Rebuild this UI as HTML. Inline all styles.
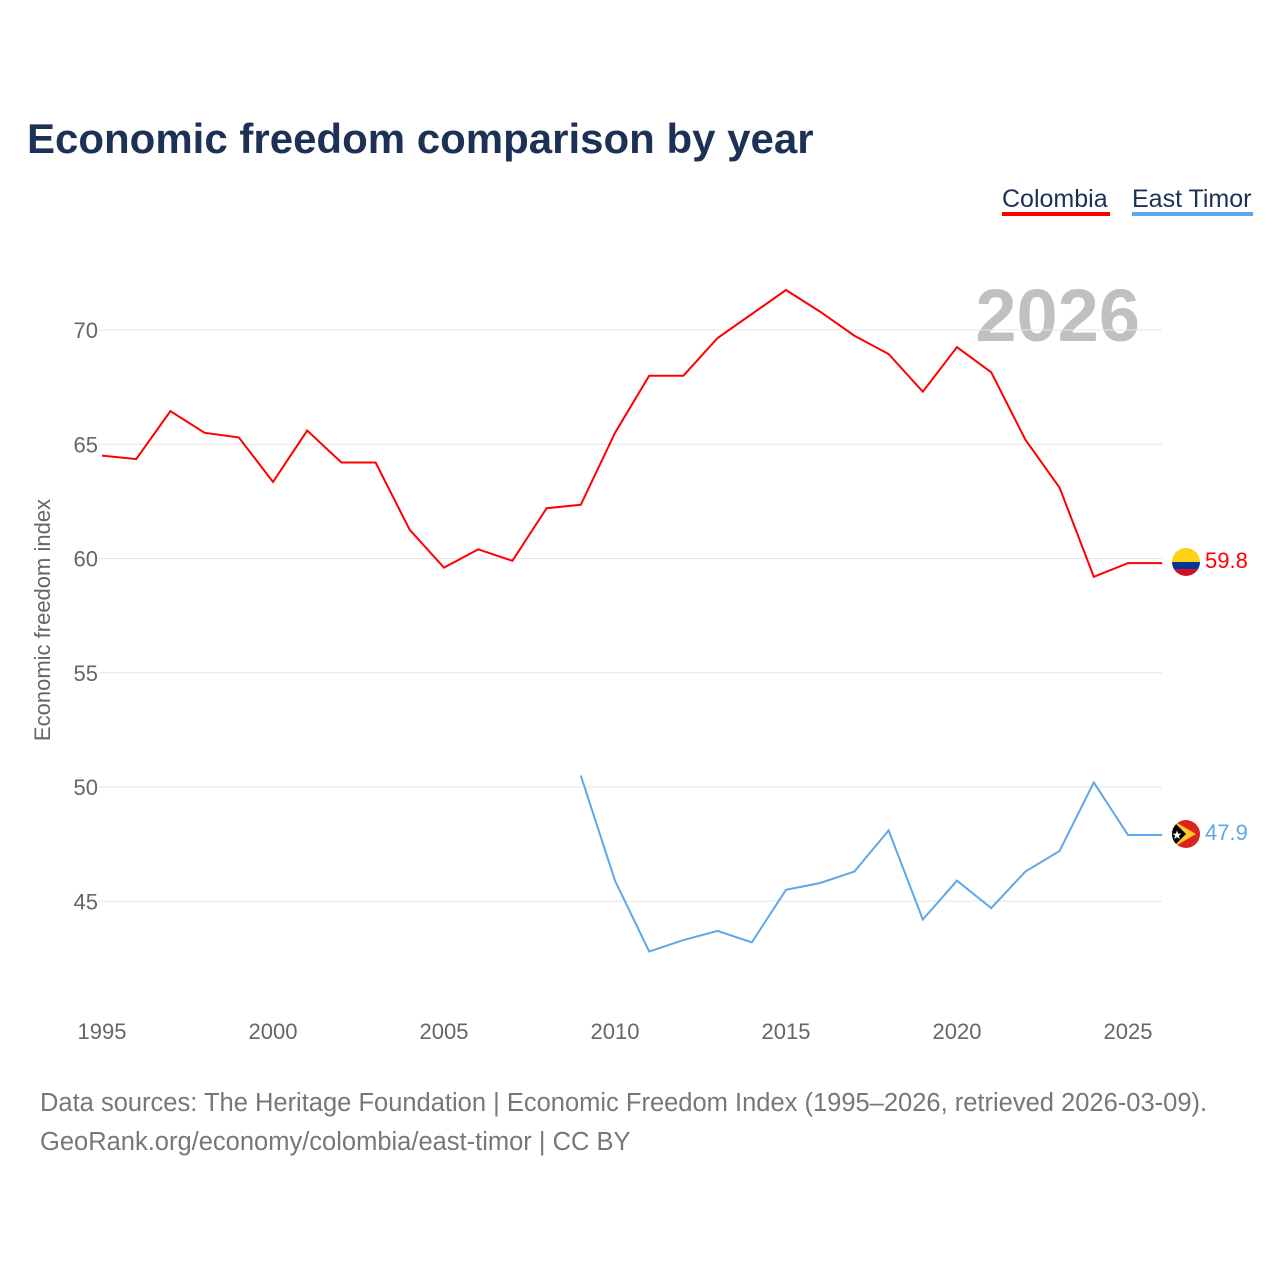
<!DOCTYPE html>
<html><head><meta charset="utf-8"><style>
html,body{margin:0;padding:0;background:#fff;width:1280px;height:1280px;overflow:hidden;font-family:"Liberation Sans",sans-serif}
</style></head><body>
<svg width="1280" height="1280" xmlns="http://www.w3.org/2000/svg">
<text x="27" y="153" font-size="42" font-weight="bold" fill="#1c3155">Economic freedom comparison by year</text>
<g><text x="1002" y="207" font-size="25" fill="#1c3155">Colombia</text><rect x="1002" y="212" width="108" height="4" fill="#ff0000"/></g>
<g><text x="1132" y="207" font-size="25" fill="#1c3155">East Timor</text><rect x="1132" y="212" width="121" height="4" fill="#5ea7ea"/></g>
<text x="1140" y="341" font-size="74" font-weight="bold" fill="#c0c0c0" text-anchor="end">2026</text>
<g id="grid"></g><g id="xt"></g><g id="lines"></g>
<text transform="translate(50,620) rotate(-90)" font-size="22" fill="#666" text-anchor="middle">Economic freedom index</text>
<g><clipPath id="c1"><circle cx="1186" cy="562" r="14"/></clipPath><g clip-path="url(#c1)"><rect x="1172" y="548" width="28" height="14" fill="#fcd116"/><rect x="1172" y="562" width="28" height="7" fill="#003893"/><rect x="1172" y="569" width="28" height="7" fill="#ce1126"/></g></g>
<g><clipPath id="c2"><circle cx="1186" cy="834" r="14"/></clipPath><g clip-path="url(#c2)"><rect x="1172" y="820" width="28" height="28" fill="#dc241f"/><polygon points="1172,820 1196,834 1172,848" fill="#ffc726"/><polygon points="1172,820 1186,834 1172,848" fill="#000"/><text x="1177" y="839" font-size="12" fill="#fff" text-anchor="middle">★</text></g></g>
<text x="1205" y="568" font-size="22" fill="#ff0000">59.8</text>
<text x="1205" y="840" font-size="22" fill="#5ea7ea">47.9</text>
<text x="40" y="1111" font-size="25.5" fill="#777">Data sources: The Heritage Foundation | Economic Freedom Index (1995–2026, retrieved 2026-03-09).</text>
<text x="40" y="1150" font-size="25.5" fill="#777">GeoRank.org/economy/colombia/east-timor | CC BY</text>
</svg>
<script>
const years=[1995,1996,1997,1998,1999,2000,2001,2002,2003,2004,2005,2006,2007,2008,2009,2010,2011,2012,2013,2014,2015,2016,2017,2018,2019,2020,2021,2022,2023,2024,2025,2026];
const colombia=[64.5,64.35,66.45,65.5,65.3,63.35,65.6,64.2,64.2,61.25,59.6,60.4,59.9,62.2,62.35,65.5,68.0,68.0,69.65,70.7,71.75,70.8,69.75,68.95,67.3,69.25,68.15,65.2,63.1,59.2,59.8,59.8];
const etYears=[2009,2010,2011,2012,2013,2014,2015,2016,2017,2018,2019,2020,2021,2022,2023,2024,2025,2026];
const eastTimor=[50.5,45.9,42.8,43.3,43.7,43.2,45.5,45.8,46.3,48.1,44.2,45.9,44.7,46.3,47.2,50.2,47.9,47.9];
const yTicks=[45,50,55,60,65,70];
const xTicks=[1995,2000,2005,2010,2015,2020,2025];
const NS="http://www.w3.org/2000/svg";
const x=v=>102+(v-1995)*34.2;
const y=v=>330+(70-v)*22.85;
function mk(t,a,p){const e=document.createElementNS(NS,t);for(const k in a)e.setAttribute(k,a[k]);p.appendChild(e);return e;}
const g=document.getElementById('grid');
yTicks.forEach(v=>{
 const l=mk('line',{x1:98,x2:1162,y1:y(v),y2:y(v),stroke:'#e6e6e6','stroke-width':1},g);
 
 
 const t=mk('text',{x:98,y:y(v)+8,'font-size':22,fill:'#666','text-anchor':'end'},g);
 t.textContent=v;
 
 
});
const xt=document.getElementById('xt');
xTicks.forEach(v=>{
 const t=mk('text',{x:x(v),y:1039,'font-size':22,fill:'#666','text-anchor':'middle'},xt);
 t.textContent=v;
 
 
});
const L=document.getElementById('lines');
const p1=mk('polyline',{points:years.map((yr,i)=>x(yr)+','+y(colombia[i])).join(' '),fill:'none',stroke:'#ff0000','stroke-width':2},L);


const p2=mk('polyline',{points:etYears.map((yr,i)=>x(yr)+','+y(eastTimor[i])).join(' '),fill:'none',stroke:'#5ea7ea','stroke-width':2},L);


</script>
</body></html>
